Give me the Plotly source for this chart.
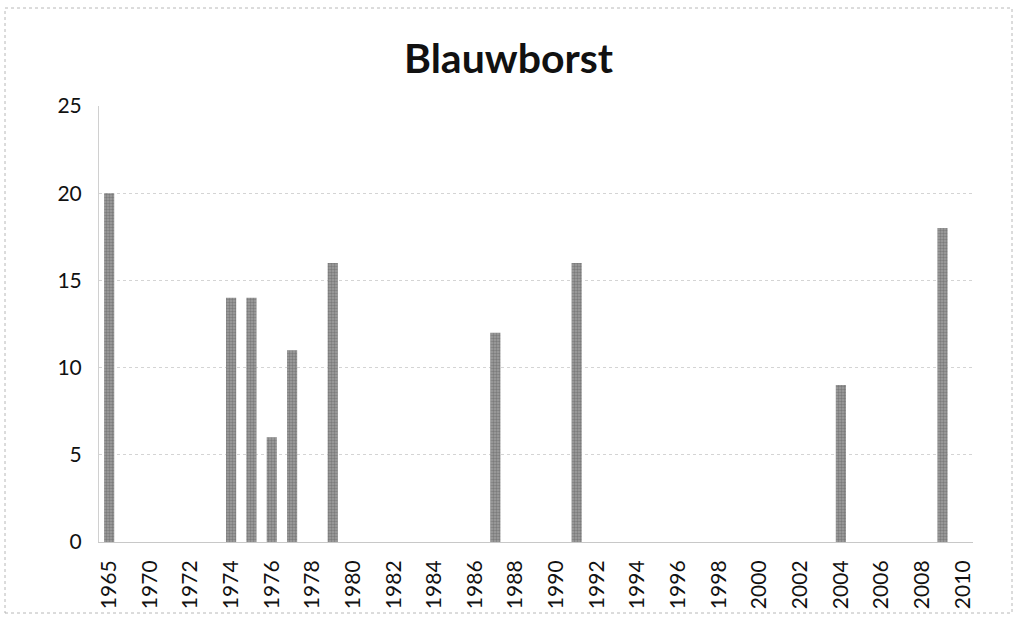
import plotly.graph_objects as go

# Categories on the Excel category axis (index 1 is an unlabeled slot)
years = ["1965", "1969"] + [str(y) for y in range(1970, 2011)]
observed_years = ["1965", "1974", "1975", "1976", "1977", "1979", "1987", "1991", "2004", "2009"]
observed_counts = [20, 14, 14, 6, 11, 16, 12, 16, 9, 18]
tick_labels = ["1965"] + [str(y) for y in range(1970, 2011, 2)]
title_text = "Blauwborst"

counts = {y: 0 for y in years}
for y, v in zip(observed_years, observed_counts):
    counts[y] = v
values = [counts[y] for y in years]

FONT = "Lato"

fig = go.Figure()
fig.add_trace(go.Bar(
    x=years,
    y=values,
    marker=dict(
        color="#8a8a8a",
        line=dict(width=0),
        pattern=dict(shape=".", fgcolor="#555555", bgcolor="#a0a0a0", size=3, solidity=0.5),
    ),
    hoverinfo="x+y",
))

fig.update_layout(
    width=1017,
    height=619,
    margin=dict(l=99, r=44, t=106, b=77, autoexpand=False),
    paper_bgcolor="white",
    plot_bgcolor="white",
    bargap=0.5,
    showlegend=False,
    title=dict(
        text="<b>" + title_text + "</b>",
        x=0.5,
        xanchor="center",
        xref="container",
        y=0.905,
        yanchor="middle",
        yref="container",
        font=dict(family=FONT, size=41, color="#111111"),
    ),
    font=dict(family=FONT, color="#111111"),
)

fig.update_xaxes(
    type="category",
    categoryorder="array",
    categoryarray=years,
    tickmode="array",
    tickvals=tick_labels,
    ticktext=tick_labels,
    tickangle=-90,
    tickfont=dict(family=FONT, size=21, color="#111111"),
    showgrid=False,
    showline=True,
    linecolor="#c8c8c8",
    linewidth=1,
    ticks="",
    range=[-0.5, len(years) - 0.5],
    ticklabelstandoff=9,
    automargin=False,
)

fig.update_yaxes(
    range=[0, 25],
    tickvals=[0, 5, 10, 15, 20, 25],
    tickfont=dict(family=FONT, size=21, color="#111111"),
    showgrid=True,
    gridcolor="#d4d4d4",
    griddash="dot",
    gridwidth=1,
    showline=True,
    linecolor="#d0d0d0",
    linewidth=1,
    ticks="",
    zeroline=False,
    ticklabelstandoff=12,
    automargin=False,
)

# Dotted chart-area border like the Excel chart frame
fig.add_shape(
    type="rect",
    xref="paper", yref="paper",
    x0=-94 / 874, x1=1 + 39 / 874,
    y0=-71 / 436, y1=1 + 98 / 436,
    line=dict(color="#b8b8b8", width=1, dash="dot"),
    fillcolor="rgba(0,0,0,0)",
    layer="below",
)

fig.write_html(
    "out.html",
    config={"displayModeBar": False},
    post_script="document.body.style.margin='0';",
)
